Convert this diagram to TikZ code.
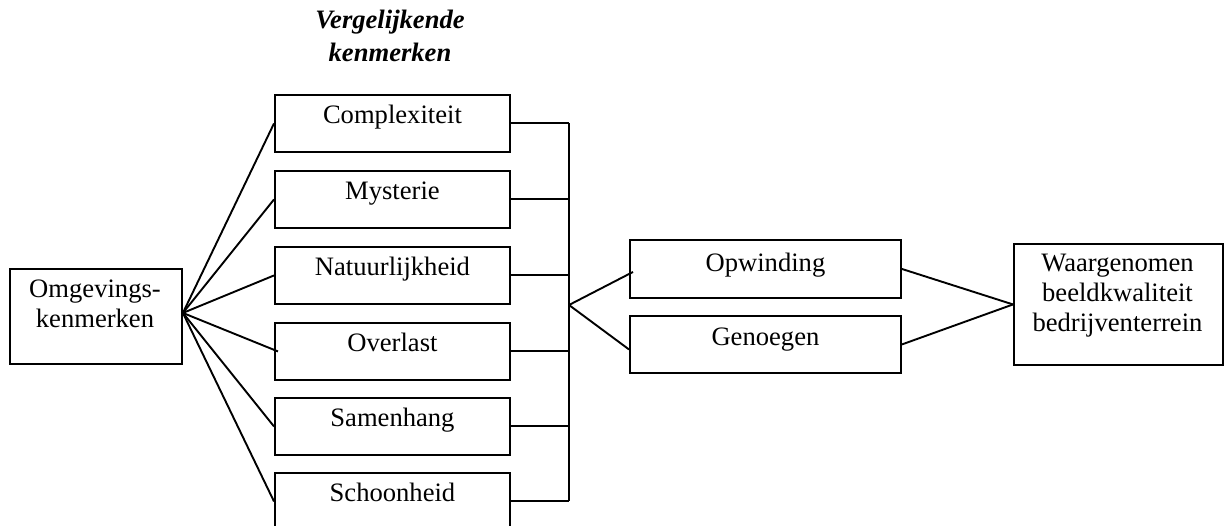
\documentclass[tikz,border=0pt]{standalone}
\usepackage{fontspec}
\setmainfont{Liberation Serif}
\begin{document}
\begin{tikzpicture}[x=1pt,y=-1pt,line width=1.9pt,
  every node/.style={font=\fontsize{26.6}{30}\selectfont,inner sep=0pt},
  factor/.style={draw,rectangle,anchor=north west,minimum width=235pt,text height=29pt,text depth=28pt},
  emotion/.style={draw,rectangle,anchor=north west,minimum width=271pt},
  frame/.style={draw,rectangle,anchor=north west},
  txt/.style={align=center,anchor=base}]
\clip (0,0) rectangle (1227,526);
\useasboundingbox (0,0) rectangle (1227,526);

% heading above the comparative characteristics (base = last line)
\node[align=center,anchor=base,font=\fontsize{26.6}{33}\selectfont\bfseries\itshape] (head) at (390,62) {Vergelijkende\\kenmerken};

% environmental characteristics
\node[frame,minimum width=172pt,minimum height=95pt] (omg) at (9,268) {};
\node[txt] (omgtxt) at (95,328) {Omgevings-\\kenmerken};

% comparative characteristics
\node[factor] (c1) at (274,94)  {Complexiteit};
\node[factor] (c2) at (274,170) {Mysterie};
\node[factor] (c3) at (274,246) {Natuurlijkheid};
\node[factor] (c4) at (274,322) {Overlast};
\node[factor] (c5) at (274,397) {Samenhang};
\node[factor] (c6) at (274,472) {Schoonheid};

% emotions
\node[emotion,text height=32pt,text depth=26pt] (opw) at (629,239) {Opwinding};
\node[emotion,text height=30pt,text depth=27pt] (gen) at (629,315) {Genoegen};

% outcome
\node[frame,minimum width=209pt,minimum height=121pt] (waar) at (1013,243) {};
\node[txt] (waartxt) at (1117.5,332) {Waargenomen\\beeldkwaliteit\\bedrijventerrein};

% fan from the environmental box
\coordinate (hub) at ([yshift=3.5pt]omg.east);
\draw (hub) -- (c1.west);
\draw (hub) -- (c2.west);
\draw (hub) -- (c3.west);
\draw (hub) -- ([xshift=4pt]c4.west);
\draw (hub) -- (c5.west);
\draw (hub) -- (c6.west);

% collecting bus on the right
\coordinate (bus) at (569,305);
\foreach \n in {c1,c2,c3,c4,c5,c6}
  \draw (\n.east) -- (\n.east -| bus);
\draw (c1.east -| bus) -- (c6.east -| bus);

% bus to emotions
\draw (bus) -- ([xshift=4pt,yshift=-3pt]opw.west);
\draw (bus) -- ([yshift=-5pt]gen.west);

% emotions to outcome
\draw (opw.east) -- (waar.west);
\draw (gen.east) -- (waar.west);
\end{tikzpicture}
\end{document}
